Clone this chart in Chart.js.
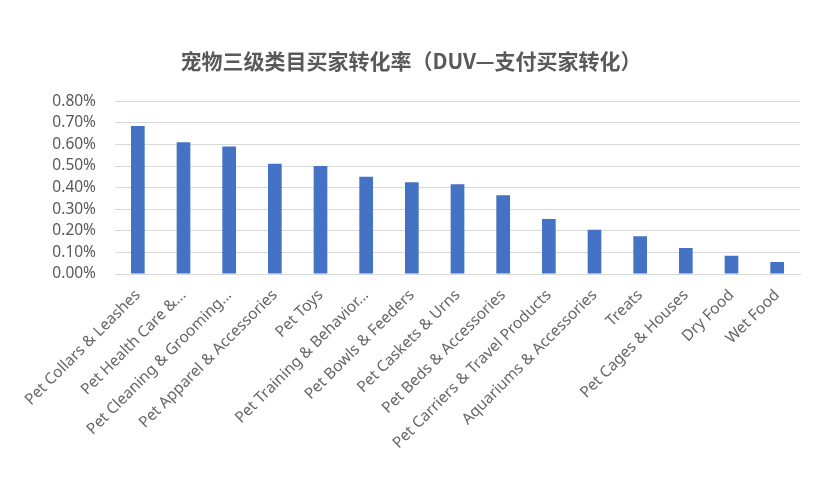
<!DOCTYPE html>
<html>
<head>
<meta charset="utf-8">
<script src="https://cdn.jsdelivr.net/npm/chart.js@4/dist/chart.umd.min.js"></script>
<style>
  html, body { margin: 0; padding: 0; background: #fff; }
  #wrap { width: 832px; height: 500px; }
</style>
</head>
<body>
<div id="wrap"><canvas id="myChart" width="832" height="500"></canvas></div>
<script>
// categories (truncated the same way as the original chart)
var categories = [
  "Pet Collars & Leashes",
  "Pet Health Care &...",
  "Pet Cleaning & Grooming...",
  "Pet Apparel & Accessories",
  "Pet Toys",
  "Pet Training & Behavior...",
  "Pet Bowls & Feeders",
  "Pet Caskets & Urns",
  "Pet Beds & Accessories",
  "Pet Carriers & Travel Products",
  "Aquariums & Accessories",
  "Treats",
  "Pet Cages & Houses",
  "Dry Food",
  "Wet Food"
];

// conversion rate, in percent
var conversionRate = [0.685, 0.61, 0.59, 0.51, 0.50, 0.45, 0.425, 0.415, 0.365, 0.255, 0.205, 0.175, 0.12, 0.085, 0.055];

var yMin = 0;
var yMax = 0.8;
var yStep = 0.1;

var titleText = "宠物三级类目买家转化率（DUV—支付买家转化）";

var textColor = "#595959";
var gridColor = "#d9d9d9";

var context = document.getElementById("myChart").getContext("2d");
new Chart(context, {
  type: "bar",
  data: {
    labels: categories,
    datasets: [{
      label: "DUV",
      data: conversionRate,
      backgroundColor: "#4472C4",
      borderWidth: 0,
      barPercentage: 0.3,
      categoryPercentage: 1.0
    }]
  },
  options: {
    responsive: false,
    animation: false,
    layout: {
      // left/right chosen so the title centres where the original one does
      padding: { top: 10, right: 32, bottom: 0, left: 22 }
    },
    plugins: {
      legend: { display: false },
      tooltip: { enabled: false },
      title: {
        display: true,
        text: titleText,
        color: textColor,
        font: { family: "'Noto Sans CJK SC', 'Noto Sans', sans-serif", size: 21, weight: "bold" },
        padding: { top: 38, bottom: 28 }
      }
    },
    scales: {
      x: {
        grid: { display: false, drawTicks: false },
        border: { display: true, color: gridColor, width: 1 },
        ticks: {
          color: "#666666",
          font: { family: "'Noto Sans', sans-serif", size: 15.5 },
          maxRotation: 45,
          minRotation: 45,
          autoSkip: false,
          padding: 12
        },
        afterFit: function (scale) { scale.height = 226; }
      },
      y: {
        min: yMin,
        max: yMax,
        grid: { color: gridColor, lineWidth: 1, drawTicks: false },
        border: { display: false },
        ticks: {
          stepSize: yStep,
          color: textColor,
          font: { family: "'Noto Sans', sans-serif", size: 15.5 },
          padding: 19,
          callback: function (v) { return v.toFixed(2) + "%"; }
        },
        afterFit: function (scale) { scale.width = 93; }
      }
    }
  }
});
</script>
</body>
</html>
